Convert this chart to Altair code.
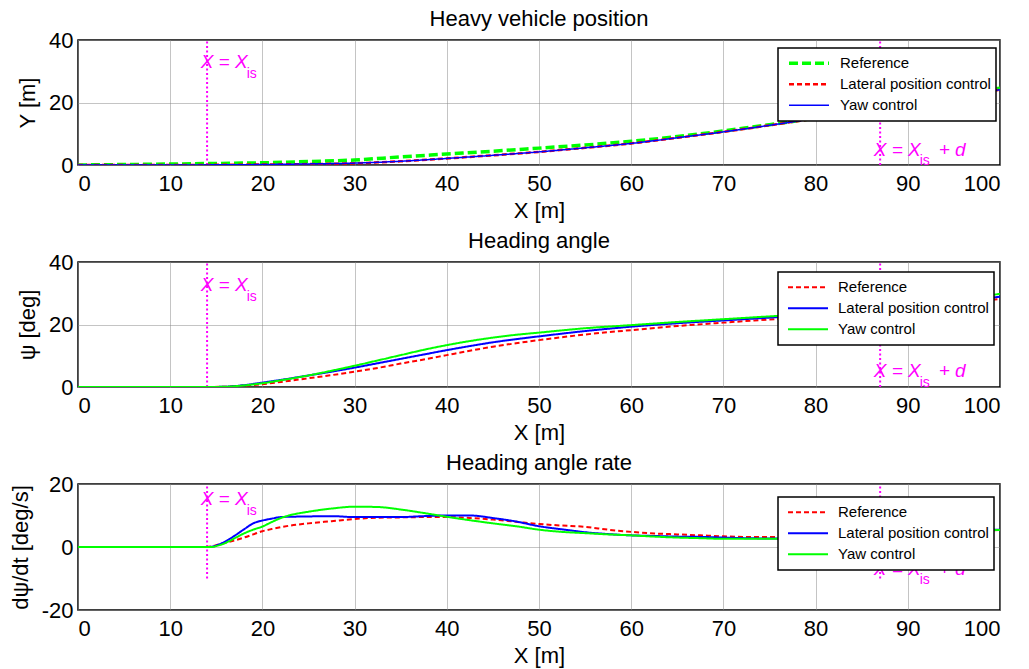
import altair as alt
import pandas as pd

FONT = "Liberation Sans"
MAGENTA = "#FF00FF"

# Lane-change start and length of the manoeuvre
X_IS = 14
D = 73

# ---------------- Panel 1: heavy vehicle position Y [m] ----------------
pos_x = [0, 5, 10, 15, 20, 25, 30, 35, 40, 45, 50, 55, 60, 65, 70, 75, 80, 85, 90, 95, 100]
pos_reference = [0, 0.15, 0.3, 0.5, 0.7, 1.1, 1.6, 2.6, 3.5, 4.4, 5.4, 6.4, 7.6, 9.1, 10.9, 12.9, 15.0, 17.2, 19.6, 22.0, 24.6]
pos_lateral = [0, 0, 0, 0.05, 0.15, 0.3, 0.55, 1.2, 2.1, 3.1, 4.2, 5.5, 6.9, 8.7, 10.6, 12.7, 14.9, 17.1, 19.4, 21.7, 24.1]
pos_yaw = [0, 0, 0, 0.05, 0.15, 0.35, 0.6, 1.2, 2.1, 3.1, 4.2, 5.5, 6.9, 8.7, 10.6, 12.7, 14.9, 17.1, 19.4, 21.7, 24.1]

# ---------------- Panel 2: heading angle psi [deg] ----------------
head_x = [0, 5, 10, 14, 16, 18, 20, 22.5, 25, 27.5, 30, 32.5, 35, 37.5, 40, 42.5, 45, 47.5,
          50, 55, 60, 65, 70, 75, 80, 85, 90, 95, 100]
head_reference = [0, 0, 0, 0, 0.1, 0.4, 0.9, 1.8, 2.8, 3.8, 4.9, 6.1, 7.5, 8.8, 10.2, 11.6, 12.9, 14.0,
                  15.0, 16.8, 18.2, 19.5, 20.6, 21.6, 22.6, 23.8, 25.2, 26.7, 28.2]
head_lateral = [0, 0, 0, 0, 0.1, 0.6, 1.4, 2.5, 3.7, 4.9, 6.2, 7.6, 9.0, 10.4, 11.8, 13.1, 14.3, 15.3,
                16.2, 17.9, 19.3, 20.4, 21.3, 22.2, 23.1, 24.3, 25.7, 27.2, 28.9]
head_yaw = [0, 0, 0, 0, 0.1, 0.5, 1.2, 2.4, 3.7, 5.2, 6.8, 8.5, 10.2, 11.9, 13.4, 14.7, 15.8, 16.7,
            17.4, 18.8, 19.8, 20.8, 21.7, 22.6, 23.5, 24.7, 26.2, 27.9, 29.8]

# ---------------- Panel 3: heading angle rate [deg/s] ----------------
rate_x = [0, 5, 10, 14, 14.5, 15, 16, 17, 18, 19, 20, 21, 22, 23, 25, 27.5, 30, 32.5, 35, 37.5,
          40, 42.5, 45, 47.5, 50, 52.5, 55, 57.5, 60, 62.5, 65, 67.5, 70, 72.5, 75, 80, 85, 90, 95, 100]
rate_reference = [0, 0, 0, 0, 0.2, 0.6, 1.3, 2.1, 3.0, 4.0, 5.0, 5.7, 6.3, 6.8, 7.5, 8.2, 8.9, 9.3, 9.4, 9.5,
                  9.5, 9.2, 8.7, 8.0, 7.3, 6.8, 6.4, 5.5, 4.8, 4.3, 4.0, 3.7, 3.4, 3.2, 3.2, 3.6, 4.0, 4.6, 5.0, 5.4]
rate_lateral = [0, 0, 0, 0, 0.1, 0.5, 1.8, 3.6, 5.6, 7.5, 8.4, 9.0, 9.5, 9.6, 9.7, 9.8, 9.5, 9.5, 9.5, 9.8,
                10.0, 10.0, 9.2, 8.1, 6.6, 5.6, 4.7, 4.1, 3.7, 3.5, 3.3, 3.2, 3.0, 2.8, 2.7, 3.2, 3.8, 4.4, 5.0, 5.5]
rate_yaw = [0, 0, 0, 0, 0.0, 0.3, 1.3, 2.8, 4.3, 5.5, 6.5, 7.9, 9.2, 10.1, 11.2, 12.2, 12.8, 12.7, 11.9, 10.8,
            9.6, 8.5, 7.5, 6.6, 5.5, 4.8, 4.4, 4.0, 3.7, 3.3, 3.0, 2.8, 2.6, 2.6, 2.6, 3.2, 3.8, 4.4, 5.0, 5.4]

SERIES = ["Reference", "Lateral position control", "Yaw control"]


def long_table(xs, columns):
    rows = []
    for name, ys in zip(SERIES, columns):
        for x, y in zip(xs, ys):
            rows.append({"X": x, "value": y, "series": name})
    return pd.DataFrame(rows)


def panel(df, title, ytitle, ydomain, yticks, colors, dashes, widths,
          legend_y, line_span, left_label_y, right_label_y, height):
    x_enc = alt.X("X:Q", scale=alt.Scale(domain=[0, 100], nice=False),
                  axis=alt.Axis(values=list(range(0, 101, 10)), title="X [m]"))
    y_scale = alt.Scale(domain=ydomain, nice=False)
    y_axis = alt.Axis(values=yticks, title=ytitle, labelExpr="'' + datum.value")

    legend = alt.Legend(
        orient="none", legendX=700, legendY=legend_y, title=None,
        symbolType="stroke", symbolSize=1600, clipHeight=20.5, rowPadding=0,
        padding=5, symbolOffset=4, labelOffset=9, labelFont=FONT, labelFontSize=15,
        labelColor="black", labelLimit=400, strokeColor="black", fillColor="white",
        cornerRadius=0,
    )
    color = alt.Color("series:N", scale=alt.Scale(domain=SERIES, range=colors), legend=legend)
    dash = alt.StrokeDash("series:N", scale=alt.Scale(domain=SERIES, range=dashes), legend=legend)
    width = alt.StrokeWidth("series:N", scale=alt.Scale(domain=SERIES, range=widths), legend=legend)

    layers = []
    for name in SERIES:
        layers.append(
            alt.Chart(df).transform_filter(alt.datum.series == name)
            .mark_line(interpolate="monotone", strokeCap="butt", clip=True)
            .encode(x=x_enc, y=alt.Y("value:Q", scale=y_scale, axis=y_axis),
                    color=color, strokeDash=dash, strokeWidth=width,
                    order="X:Q")
        )

    # dotted markers at X = X_is and X = X_is + d
    markers = pd.DataFrame({"X": [X_IS, X_IS + D],
                            "lo": [line_span[0]] * 2, "hi": [line_span[1]] * 2})
    rules = alt.Chart(markers).mark_rule(color=MAGENTA, strokeWidth=2, strokeDash=[2, 2.5]).encode(
        x="X:Q", y=alt.Y("lo:Q", scale=y_scale), y2="hi:Q")

    labels = pd.DataFrame({
        "X": [X_IS - 0.7, X_IS + D - 0.7],
        "value": [left_label_y, right_label_y],
        "main": ["X = X", "X = X"],
        "sub": ["is", "is"],
        "tail": ["", "+ d"],
    })
    base_txt = alt.Chart(labels).encode(x="X:Q", y=alt.Y("value:Q", scale=y_scale))
    main_txt = base_txt.mark_text(align="left", baseline="alphabetic", font=FONT, fontSize=19,
                                  fontStyle="italic", color=MAGENTA).encode(text="main:N")
    sub_txt = base_txt.mark_text(align="left", baseline="alphabetic", font=FONT, fontSize=14,
                                 color=MAGENTA, dx=46, dy=9.5).encode(text="sub:N")
    tail_txt = base_txt.mark_text(align="left", baseline="alphabetic", font=FONT, fontSize=19,
                                  fontStyle="italic", color=MAGENTA, dx=65).encode(text="tail:N")

    return alt.layer(rules, *layers, main_txt, sub_txt, tail_txt).properties(
        width=922, height=height,
        title=alt.TitleParams(title, offset=12, dy=13.5, frame="group"),
    )


GREEN, RED, BLUE = "#00FF00", "#FF0000", "#0000FF"

p1 = panel(long_table(pos_x, [pos_reference, pos_lateral, pos_yaw]),
           "Heavy vehicle position", "Y [m]", [0, 40], [0, 20, 40],
           [GREEN, RED, BLUE], [[9, 4], [5, 3], [1, 0]], [3.5, 1.5, 2],
           8, [0, 40], 31, 2.9, 125)
p2 = panel(long_table(head_x, [head_reference, head_lateral, head_yaw]),
           "Heading angle", "ψ [deg]", [0, 40], [0, 20, 40],
           [RED, BLUE, GREEN], [[5, 3], [1, 0], [1, 0]], [2, 2, 2],
           10, [0, 40], 30.7, 3.2, 125)
p3 = panel(long_table(rate_x, [rate_reference, rate_lateral, rate_yaw]),
           "Heading angle rate", "dψ/dt [deg/s]", [-20, 20], [-20, 0, 20],
           [RED, BLUE, GREEN], [[5, 3], [1, 0], [1, 0]], [2, 2, 2],
           13, [-10, 20], 13.2, -8.8, 126)

chart = alt.vconcat(p1, p2, p3, spacing=97, bounds="flush").resolve_scale(
    color="independent", strokeDash="independent", strokeWidth="independent"
).properties(
    padding={"left": 8, "top": 6, "right": 5, "bottom": 2},
    background="white",
).configure(font=FONT).configure_view(
    stroke="black", strokeWidth=1.5
).configure_axis(
    labelFont=FONT, labelFontSize=22, labelColor="black",
    titleFont=FONT, titleFontSize=22, titleFontWeight="normal", titleColor="black",
    ticks=False, domain=False,
    grid=True, gridColor="#888888", gridWidth=1, gridDash=[1, 1],
).configure_axisX(
    labelPadding=8, titlePadding=6,
).configure_axisY(
    labelPadding=5, titlePadding=9,
).configure_legend(
    strokeWidth=1.5,
).configure_title(
    font=FONT, fontSize=22, fontWeight="normal", color="black", anchor="middle",
)

chart.save("out.html", embed_options={"renderer": "svg", "actions": False})
